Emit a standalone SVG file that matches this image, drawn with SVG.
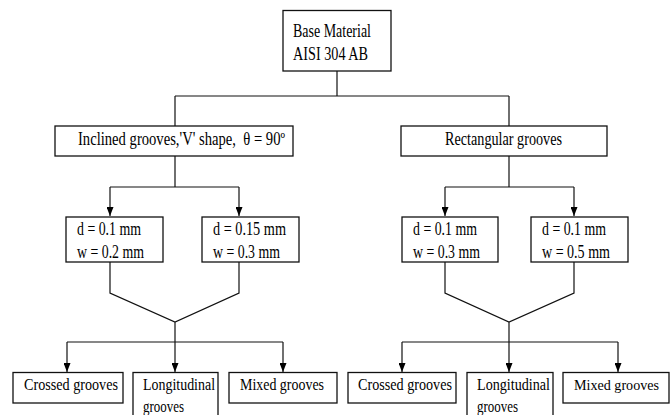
<svg xmlns="http://www.w3.org/2000/svg" width="670" height="415" viewBox="0 0 670 415">
<style>
.box{fill:#fff;stroke:#111;stroke-width:1.3}
.ln{fill:none;stroke:#111;stroke-width:1.2}
.t{font-family:"Liberation Serif","Times New Roman",serif;font-size:18px;fill:#000}
.b{font-size:16px}
</style>
<defs>
<marker id="ah" markerUnits="userSpaceOnUse" markerWidth="9" markerHeight="7" refX="9" refY="3.5" orient="auto">
<path d="M0,0 L9,3.5 L0,7 z" fill="#000"/>
</marker>
</defs>
<rect width="670" height="415" fill="#fff"/>
<g id="connectors">
<path class="ln" d="M337,71 V96 M175,96 H509 M175,96 V126 M509,96 V126"/>
<path class="ln" d="M175,156 V187 M110,187 H239 M509,156 V187 M445,187 H574"/>
<path class="ln" marker-end="url(#ah)" d="M110,187 V216"/>
<path class="ln" marker-end="url(#ah)" d="M239,187 V216"/>
<path class="ln" marker-end="url(#ah)" d="M445,187 V216"/>
<path class="ln" marker-end="url(#ah)" d="M574,187 V216"/>
<path class="ln" d="M110,262 V293 L175,322 L239,293 V262 M175,322 V342 M67,342 H283"/>
<path class="ln" d="M445,262 V293 L509,322 L574,293 V262 M509,322 V342 M402,342 H618"/>
<path class="ln" marker-end="url(#ah)" d="M67,342 V372"/>
<path class="ln" marker-end="url(#ah)" d="M175,342 V372"/>
<path class="ln" marker-end="url(#ah)" d="M283,342 V372"/>
<path class="ln" marker-end="url(#ah)" d="M402,342 V372"/>
<path class="ln" marker-end="url(#ah)" d="M509,342 V372"/>
<path class="ln" marker-end="url(#ah)" d="M618,342 V372"/>
</g>
<g id="base">
<rect class="box" x="283" y="10.5" width="108" height="60.5"/>
<text class="t" x="293" y="37" textLength="78" lengthAdjust="spacingAndGlyphs">Base Material</text>
<text class="t" x="293" y="60" textLength="75" lengthAdjust="spacingAndGlyphs">AISI 304 AB</text>
</g>
<g id="inclined">
<rect class="box" x="55" y="126" width="238" height="30"/>
<text class="t" x="78" y="145" textLength="207" lengthAdjust="spacingAndGlyphs" style="white-space:pre">Inclined grooves,'V' shape,  θ = 90º</text>
</g>
<g id="rectangular">
<rect class="box" x="401" y="126" width="206" height="30"/>
<text class="t" x="445" y="145" textLength="117" lengthAdjust="spacingAndGlyphs">Rectangular grooves</text>
</g>
<g id="v1">
<rect class="box" x="66" y="217" width="97" height="45"/>
<text class="t" x="77" y="235" textLength="64" lengthAdjust="spacingAndGlyphs">d = 0.1 mm</text>
<text class="t" x="77" y="258" textLength="67" lengthAdjust="spacingAndGlyphs">w = 0.2 mm</text>
</g>
<g id="v2">
<rect class="box" x="202" y="217" width="97" height="45"/>
<text class="t" x="213" y="235" textLength="73" lengthAdjust="spacingAndGlyphs">d = 0.15 mm</text>
<text class="t" x="213" y="258" textLength="67" lengthAdjust="spacingAndGlyphs">w = 0.3 mm</text>
</g>
<g id="r1">
<rect class="box" x="402" y="217" width="96" height="45"/>
<text class="t" x="413" y="235" textLength="64" lengthAdjust="spacingAndGlyphs">d = 0.1 mm</text>
<text class="t" x="413" y="258" textLength="67" lengthAdjust="spacingAndGlyphs">w = 0.3 mm</text>
</g>
<g id="r2">
<rect class="box" x="531" y="217" width="97" height="45"/>
<text class="t" x="542" y="235" textLength="64" lengthAdjust="spacingAndGlyphs">d = 0.1 mm</text>
<text class="t" x="542" y="258" textLength="68" lengthAdjust="spacingAndGlyphs">w = 0.5 mm</text>
</g>
<g id="l-crossed">
<rect class="box" x="13" y="372.5" width="110" height="30.5"/>
<text class="t b" x="24" y="390" textLength="94" lengthAdjust="spacingAndGlyphs">Crossed grooves</text>
</g>
<g id="l-long">
<rect class="box" x="133" y="372.5" width="85" height="45"/>
<text class="t b" x="143" y="390" textLength="72" lengthAdjust="spacingAndGlyphs">Longitudinal</text>
<text class="t b" x="143" y="412" textLength="41" lengthAdjust="spacingAndGlyphs">grooves</text>
</g>
<g id="l-mixed">
<rect class="box" x="229" y="372.5" width="108" height="30.5"/>
<text class="t b" x="240" y="390" textLength="84" lengthAdjust="spacingAndGlyphs">Mixed grooves</text>
</g>
<g id="r-crossed">
<rect class="box" x="348" y="372.5" width="108" height="30.5"/>
<text class="t b" x="358" y="390" textLength="94" lengthAdjust="spacingAndGlyphs">Crossed grooves</text>
</g>
<g id="r-long">
<rect class="box" x="467" y="372.5" width="86" height="45"/>
<text class="t b" x="477" y="390" textLength="73" lengthAdjust="spacingAndGlyphs">Longitudinal</text>
<text class="t b" x="477" y="412" textLength="41" lengthAdjust="spacingAndGlyphs">grooves</text>
</g>
<g id="r-mixed">
<rect class="box" x="563" y="372.5" width="106" height="30.5"/>
<text class="t b" x="574" y="390" textLength="85" lengthAdjust="spacingAndGlyphs" style="font-size:15px">Mixed grooves</text>
</g>
</svg>
